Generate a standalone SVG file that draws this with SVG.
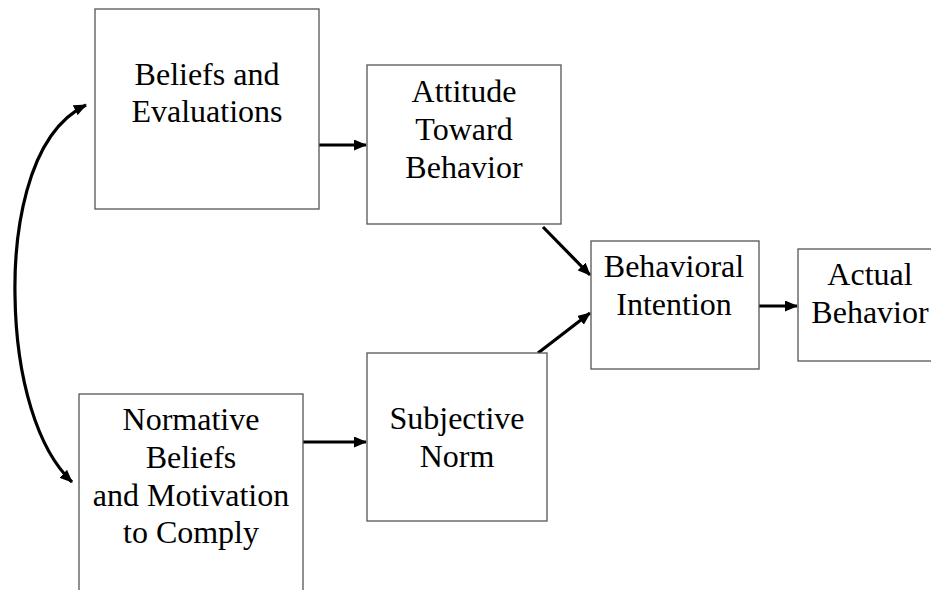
<svg xmlns="http://www.w3.org/2000/svg" width="931" height="590" viewBox="0 0 931 590">
<defs>
<style>
.box{fill:#fff;stroke:#555;stroke-width:1.3}
.t{font-family:'Liberation Serif','Times New Roman','DejaVu Serif',serif;font-size:32px;fill:#000;text-anchor:middle}
.c{fill:none;stroke:#000;stroke-width:3.2}
</style>
<marker id="ah" markerWidth="13" markerHeight="11" refX="12" refY="5.5" orient="auto" markerUnits="userSpaceOnUse">
<path d="M0,0 L13,5.5 L0,11 Z" fill="#000"/>
</marker>
<marker id="ahs" markerWidth="13" markerHeight="11" refX="12" refY="5.5" orient="auto-start-reverse" markerUnits="userSpaceOnUse">
<path d="M0,0 L13,5.5 L0,11 Z" fill="#000"/>
</marker>
</defs>
<rect width="931" height="590" fill="#fff"/>
<g id="connectors">
<path class="c" d="M319,145 L366,145" marker-end="url(#ah)"/>
<path class="c" d="M303,442 L366,442" marker-end="url(#ah)"/>
<path class="c" d="M543,227 L590,275" marker-end="url(#ah)"/>
<path class="c" d="M538,353 L590,313" marker-end="url(#ah)"/>
<path class="c" d="M759,306 L797,306" marker-end="url(#ah)"/>
<path class="c" d="M86,105 C24,135 14,240 15,295 C16,380 38,450 72,482" marker-start="url(#ahs)" marker-end="url(#ah)"/>
</g>
<g font-family="Liberation Serif, DejaVu Serif, serif">
<g id="beliefs">
<rect class="box" x="95" y="9" width="224" height="200"/>
<text class="t" x="207" y="85">Beliefs and</text>
<text class="t" x="207" y="122">Evaluations</text>
</g>
<g id="normative">
<rect class="box" x="79" y="394" width="224" height="210"/>
<text class="t" x="191" y="430">Normative</text>
<text class="t" x="191" y="468">Beliefs</text>
<text class="t" x="191" y="506">and Motivation</text>
<text class="t" x="191" y="543">to Comply</text>
</g>
<g id="attitude">
<rect class="box" x="367" y="65" width="194" height="159"/>
<text class="t" x="464" y="102">Attitude</text>
<text class="t" x="464" y="140">Toward</text>
<text class="t" x="464" y="178">Behavior</text>
</g>
<g id="subjective">
<rect class="box" x="367" y="353" width="180" height="168"/>
<text class="t" x="457" y="429">Subjective</text>
<text class="t" x="457" y="467">Norm</text>
</g>
<g id="intention">
<rect class="box" x="591" y="241" width="168" height="128"/>
<text class="t" x="674" y="277">Behavioral</text>
<text class="t" x="674" y="315">Intention</text>
</g>
<g id="actual">
<rect class="box" x="798" y="249" width="150" height="112"/>
<text class="t" x="870" y="285">Actual</text>
<text class="t" x="870" y="323">Behavior</text>
</g>
</g>
</svg>
